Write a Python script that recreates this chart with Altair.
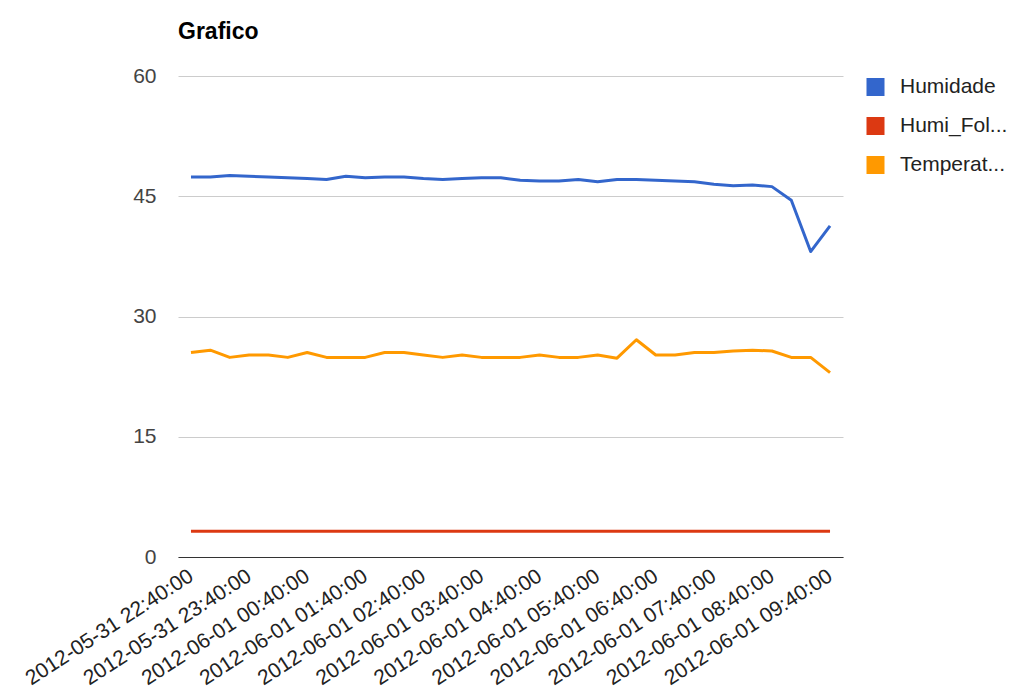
import altair as alt
import pandas as pd

times = [t.strftime("%Y-%m-%d %H:%M:%S") for t in
         pd.date_range("2012-05-31 22:40:00", periods=34, freq="20min")]

series_names = ["Humidade", "Humi_Folha", "Temperatura"]
series_colors = ["#3366cc", "#dc3912", "#ff9900"]

humidade = [47.4, 47.4, 47.6, 47.5, 47.4, 47.3, 47.2, 47.1, 47.5, 47.3,
            47.4, 47.4, 47.2, 47.1, 47.2, 47.3, 47.3, 47.0, 46.9, 46.9,
            47.1, 46.8, 47.1, 47.1, 47.0, 46.9, 46.8, 46.5, 46.3, 46.4,
            46.2, 44.5, 38.1, 41.3]
humi_folha = [3.2] * 34
temperatura = [25.5, 25.8, 24.9, 25.2, 25.2, 24.9, 25.5, 24.9, 24.9, 24.9,
               25.5, 25.5, 25.2, 24.9, 25.2, 24.9, 24.9, 24.9, 25.2, 24.9,
               24.9, 25.2, 24.8, 27.1, 25.2, 25.2, 25.5, 25.5, 25.7, 25.8,
               25.7, 24.9, 24.9, 23.0]

y_ticks = [0, 15, 30, 45, 60]

rows = []
for name, vals in zip(series_names, [humidade, humi_folha, temperatura]):
    for t, v in zip(times, vals):
        rows.append({"time": t, "serie": name, "valor": v})
df = pd.DataFrame(rows)

FONT = "Liberation Sans"

chart = alt.Chart(df).mark_line(strokeWidth=3, strokeJoin="round").encode(
    x=alt.X("time:O", sort=times, title=None,
            scale=alt.Scale(type="point", padding=0.67),
            axis=alt.Axis(values=times[::3], labelAngle=-33, labelFontSize=21,
                          labelColor="#222222", labelFont=FONT, ticks=False,
                          domainColor="#333333", domainWidth=1, labelPadding=17,
                          labelOverlap=False, labelAlign="right",
                          labelBaseline="middle", labelLimit=400, grid=False)),
    y=alt.Y("valor:Q", title=None,
            scale=alt.Scale(domain=[0, 60], nice=False),
            axis=alt.Axis(values=y_ticks, labelFontSize=21, labelColor="#444444",
                          labelFont=FONT, ticks=False, domain=False,
                          gridColor="#cccccc", labelPadding=22)),
    color=alt.Color("serie:N", sort=series_names, title=None,
                    scale=alt.Scale(domain=series_names, range=series_colors),
                    legend=alt.Legend(orient="none", legendX=687, legendY=0,
                                      symbolType="square", symbolSize=36,
                                      symbolStrokeWidth=12, symbolOpacity=1,
                                      labelFontSize=21, labelFont=FONT,
                                      labelOffset=14, labelLimit=200,
                                      labelColor="#222222", rowPadding=17,
                                      clipHeight=22,
                                      labelExpr="length(datum.label) > 8 ? substring(datum.label, 0, 8) + '...' : datum.label")),
).properties(
    width=665, height=481,
    background="white",
    title=alt.Title("Grafico", anchor="start", fontSize=23, fontWeight="bold",
                    font=FONT, color="#000000", offset=21, frame="group"),
    autosize=alt.AutoSizeParams(type="none"),
    padding={"left": 178, "top": 76, "right": 171, "bottom": 138},
).configure_view(stroke=None, strokeWidth=0)

chart.save("out.html", embed_options={"renderer": "svg", "actions": False})
